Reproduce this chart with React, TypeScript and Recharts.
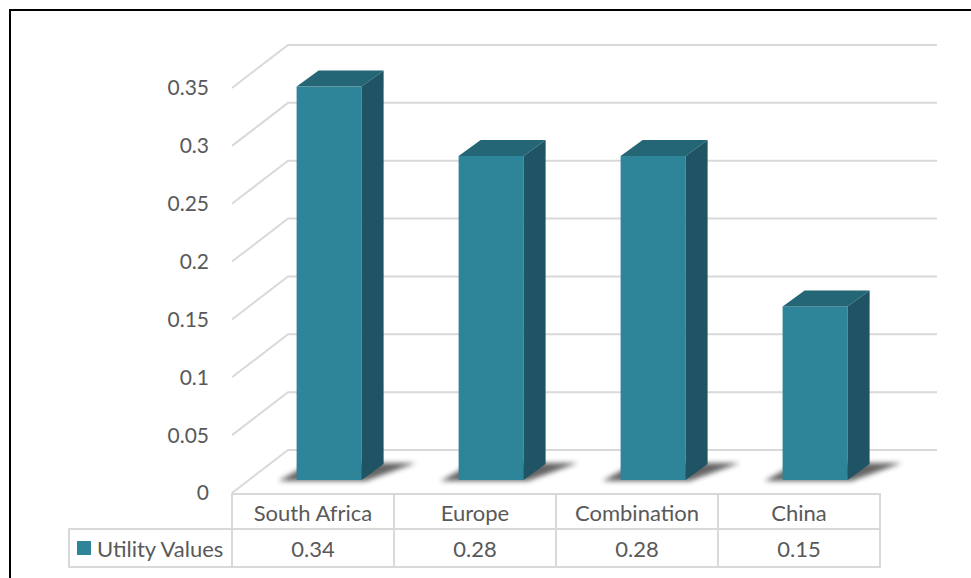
import React from 'react';
import { BarChart, Bar, XAxis, YAxis, CartesianGrid } from 'recharts';

const categories = ['South Africa', 'Europe', 'Combination', 'China'];
const utilityValues = [0.34, 0.28, 0.28, 0.15];
const yTicks = [0, 0.05, 0.1, 0.15, 0.2, 0.25, 0.3, 0.35];
const SERIES_NAME = 'Utility Values';

const data = categories.map((c, i) => ({ category: c, value: utilityValues[i] }));

const W = 971;
const H = 578;
const MARGIN = { top: 88, right: 91, bottom: 10, left: 0 };
const Y_AXIS_W = 232;
const X_AXIS_H = 75;
const BAND = (W - MARGIN.right - MARGIN.left - Y_AXIS_W) / categories.length;

const WALL_DX = 56;
const WALL_DY = 43;
const BAR_Z_DX = 16;
const BAR_Z_DY = 13;
const BAR_DX = 22;
const BAR_DY = 16;

const FRONT = '#2E8599';
const TOP = '#246676';
const SIDE = '#1E5464';
const GRID = '#D9D9D9';
const TEXT = '#595959';
const FONT = 'Lato, "Open Sans", sans-serif';

const Bar3D = (props: any) => {
  const { x, y, width, height } = props;
  if (width == null || height == null) return null;
  const fx = x + BAR_Z_DX;
  const fy = y - BAR_Z_DY;
  const by = fy + height;
  const shadow = [
    [fx - 18, by + 1],
    [fx + width + 4, by + 1],
    [fx + width + BAR_DX + 32, by - BAR_DY - 1],
    [fx + 14, by - BAR_DY - 1],
  ]
    .map((p) => p.join(','))
    .join(' ');
  const top = [
    [fx, fy],
    [fx + BAR_DX, fy - BAR_DY],
    [fx + width + BAR_DX, fy - BAR_DY],
    [fx + width, fy],
  ]
    .map((p) => p.join(','))
    .join(' ');
  const side = [
    [fx + width, fy],
    [fx + width + BAR_DX, fy - BAR_DY],
    [fx + width + BAR_DX, by - BAR_DY],
    [fx + width, by],
  ]
    .map((p) => p.join(','))
    .join(' ');
  return (
    <g>
      <polygon points={shadow} fill="#333" opacity={0.75} filter="url(#shadowBlur)" />
      <rect x={fx} y={fy} width={width} height={height} fill={FRONT} />
      <polygon points={top} fill={TOP} />
      <polygon points={side} fill={SIDE} />
    </g>
  );
};

const TableTick = (props: any) => {
  const { x, y, payload } = props;
  const i = payload.index;
  const left = x - BAND / 2;
  const r1 = y + 1;
  const r2 = y + 36;
  const r3 = y + 74;
  const val = utilityValues[i];
  return (
    <g>
      <rect x={left} y={r1} width={BAND} height={r2 - r1} fill="none" stroke={GRID} strokeWidth={2} />
      <rect x={left} y={r2} width={BAND} height={r3 - r2} fill="none" stroke={GRID} strokeWidth={2} />
      <text x={x} y={(r1 + r2) / 2 + 1} textAnchor="middle" dominantBaseline="central" fill={TEXT} fontSize={22} fontFamily={FONT}>
        {payload.value}
      </text>
      <text x={x} y={(r2 + r3) / 2} textAnchor="middle" dominantBaseline="central" fill={TEXT} fontSize={22} fontFamily={FONT}>
        {String(val)}
      </text>
      {i === 0 && (
        <g>
          <rect x={69} y={r2} width={left - 69} height={r3 - r2} fill="none" stroke={GRID} strokeWidth={2} />
          <rect x={77} y={(r2 + r3) / 2 - 7} width={14} height={14} fill={FRONT} />
          <text x={97} y={(r2 + r3) / 2} textAnchor="start" dominantBaseline="central" fill={TEXT} fontSize={22} fontFamily={FONT}>
            {SERIES_NAME}
          </text>
        </g>
      )}
    </g>
  );
};

const GridLine = (props: any) => {
  const { x1, y1, x2 } = props;
  const pts = [
    [x1, y1],
    [x1 + WALL_DX, y1 - WALL_DY],
    [x2 + WALL_DX + 1, y1 - WALL_DY],
  ]
    .map((p) => p.join(','))
    .join(' ');
  return <polyline key={props.key ?? `g-${y1}`} points={pts} fill="none" stroke={GRID} strokeWidth={2} />;
};

export default function App() {
  return (
    <div style={{ position: 'relative', width: W, height: H, overflow: 'hidden' }}>
      <style>{`body{margin:0;overflow:hidden}`}</style>
      <div
        style={{
          position: 'absolute',
          left: 9,
          top: 9,
          width: 1100,
          height: 1000,
          border: '2px solid #000',
          boxSizing: 'border-box',
        }}
      />
      <div style={{ position: 'absolute', left: 0, top: 0 }}>
        <BarChart width={W} height={H} data={data} margin={MARGIN} barCategoryGap="30%">
          <defs>
            <filter id="shadowBlur" x="-50%" y="-50%" width="200%" height="200%">
              <feGaussianBlur stdDeviation="2.5" />
            </filter>
          </defs>
          <CartesianGrid vertical={false} horizontal={GridLine as any} />
          <YAxis
            width={Y_AXIS_W}
            domain={[0, 0.35]}
            ticks={yTicks}
            tickSize={0}
            tickMargin={23}
            axisLine={false}
            tickLine={false}
            tick={{ fill: TEXT, fontSize: 21, fontFamily: FONT }}
            interval={0}
          />
          <XAxis
            dataKey="category"
            height={X_AXIS_H}
            tickSize={0}
            tickMargin={0}
            axisLine={false}
            tickLine={false}
            interval={0}
            tick={<TableTick />}
          />
          <Bar dataKey="value" name={SERIES_NAME} shape={<Bar3D />} isAnimationActive={false} />
        </BarChart>
      </div>
    </div>
  );
}
